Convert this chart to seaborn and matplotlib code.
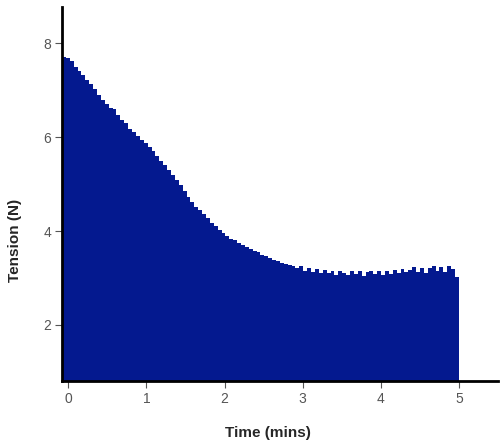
import numpy as np
import pandas as pd
import matplotlib
matplotlib.use("Agg")
import matplotlib.pyplot as plt
import seaborn as sns

# Tension readings (N), one per sample bin
tension = [
    7.70, 7.68, 7.62, 7.50, 7.40, 7.32, 7.22, 7.14, 7.02, 6.90,
    6.80, 6.70, 6.62, 6.60, 6.48, 6.36, 6.30, 6.18, 6.10, 6.02,
    5.95, 5.88, 5.80, 5.70, 5.60, 5.50, 5.40, 5.30, 5.20, 5.08,
    4.98, 4.85, 4.72, 4.62, 4.52, 4.44, 4.36, 4.27, 4.18, 4.10,
    4.02, 3.96, 3.90, 3.84, 3.80, 3.74, 3.70, 3.66, 3.62, 3.58,
    3.55, 3.50, 3.47, 3.43, 3.38, 3.36, 3.32, 3.30, 3.27, 3.25,
    3.22, 3.26, 3.16, 3.21, 3.13, 3.19, 3.11, 3.17, 3.10, 3.15,
    3.07, 3.16, 3.11, 3.06, 3.14, 3.08, 3.15, 3.05, 3.12, 3.16,
    3.08, 3.14, 3.06, 3.15, 3.09, 3.18, 3.10, 3.20, 3.12, 3.18,
    3.24, 3.13, 3.22, 3.10, 3.21, 3.26, 3.15, 3.24, 3.12, 3.25,
    3.20, 3.02,
]
t_start, t_end = -0.08, 5.0
x_ticks = [0, 1, 2, 3, 4, 5]
y_ticks = [2, 4, 6, 8]

edges = np.linspace(t_start, t_end, len(tension) + 1)
df = pd.DataFrame({"time": (edges[:-1] + edges[1:]) / 2, "tension": tension})

sns.set_style("white")
plt.rcParams["font.family"] = ["Liberation Sans", "DejaVu Sans"]

fig = plt.figure(figsize=(5, 4.47), dpi=100)
ax = fig.add_axes([0.124, 0.148, 0.872, 0.836])

sns.histplot(data=df, x="time", weights="tension", bins=edges.tolist(),
             element="step", fill=True, color="#04198F", alpha=1,
             linewidth=0, ax=ax)

ax.set_xlim(t_start, 5.5)
ax.set_ylim(0.81, 8.77)
ax.set_xticks(x_ticks)
ax.set_yticks(y_ticks)
ax.set_xticklabels([str(v) for v in x_ticks])
ax.set_yticklabels([str(v) for v in y_ticks])

for side in ["top", "right"]:
    ax.spines[side].set_visible(False)
for side in ["left", "bottom"]:
    ax.spines[side].set_linewidth(2)
    ax.spines[side].set_color("black")

ax.tick_params(axis="both", direction="out", length=5, width=0.8,
               color="#555555", labelcolor="#555555", labelsize=10,
               bottom=True, left=True)
ax.tick_params(axis="x", pad=3)
ax.tick_params(axis="y", pad=3)

ax.set_xlabel("Time (mins)", fontsize=11, fontweight="bold", va="center")
ax.set_ylabel("Tension (N)", fontsize=11, fontweight="bold", va="center")
ax.xaxis.set_label_coords(0.472, -0.139)
ax.yaxis.set_label_coords(-0.108, 0.377)

fig.savefig("out.png", dpi=100)
